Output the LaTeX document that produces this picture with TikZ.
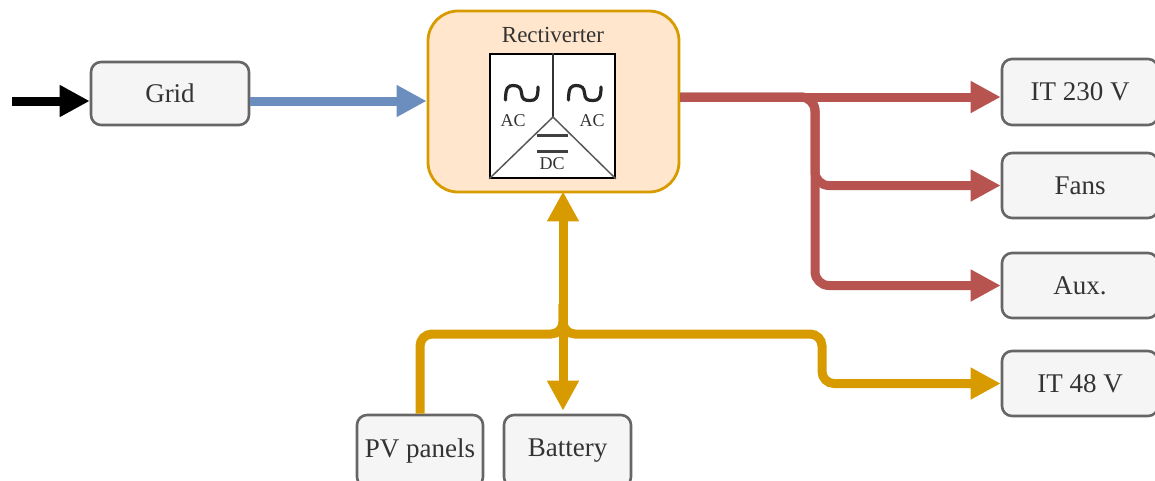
\documentclass[tikz,border=0pt]{standalone}
\usepackage{fontspec}
\setmainfont{Liberation Serif}
\usetikzlibrary{arrows.meta,calc}
\definecolor{boxfill}{HTML}{F5F5F5}
\definecolor{boxline}{HTML}{666666}
\definecolor{boxtext}{HTML}{333333}
\definecolor{bluewire}{HTML}{6C8EBF}
\definecolor{redwire}{HTML}{B85450}
\definecolor{yellowwire}{HTML}{D79B00}
\definecolor{recfill}{HTML}{FFE6CC}
\tikzset{
  unitbox/.style={draw=boxline,fill=boxfill,line width=2.6pt,rounded corners=10pt,inner sep=0pt,text=boxtext,font=\fontsize{27}{27}\selectfont,minimum width=#1},
  unitbox/.default=156pt,
  wire/.style={line width=9pt,-{Triangle[length=30pt,width=30pt]},rounded corners=14pt},
  plainwire/.style={line width=9pt,rounded corners=12pt},
  thinline/.style={line width=1.5pt,draw=black!80},
  smalltxt/.style={inner sep=0pt,text=boxtext,font=\fontsize{18}{18}\selectfont},
}
\begin{document}
\begin{tikzpicture}[x=1pt,y=-1pt]
\useasboundingbox (0,0) rectangle (1155,480);
% coordinates for free ends and levels
\coordinate (tail) at (12,101);
\coordinate (redy) at (0,97);
\coordinate (redsplit) at (815,97);
\coordinate (yellowbus) at (563,334);
\coordinate (yellowturn) at (822,334);
% nodes
\node[unitbox=158pt,minimum height=63pt] (grid) at (170,93.5) {Grid};
\node[draw=yellowwire,fill=recfill,line width=2.8pt,rounded corners=30pt,minimum width=251pt,minimum height=181pt,inner sep=0pt] (rec) at (553.5,101.5) {};
\node[inner sep=0pt,text=boxtext,font=\fontsize{23}{23}\selectfont] (rectitle) at (553,35) {Rectiverter};
\node[draw=black,fill=white,line width=1.6pt,minimum width=125pt,minimum height=124pt,inner sep=0pt] (conv) at (552.5,116) {};
\node[unitbox,minimum height=66pt] (it230) at (1080,92) {IT 230 V};
\node[unitbox,minimum height=65pt] (fans) at (1080,185.5) {Fans};
\node[unitbox,minimum height=65pt] (aux) at (1080,285.5) {Aux.};
\node[unitbox,minimum height=65pt] (it48) at (1080,383.5) {IT 48 V};
\node[unitbox=126pt,minimum height=72pt] (pv) at (420,451) {PV panels};
\node[unitbox=127pt,minimum height=72pt] (bat) at (567.5,451) {Battery};
% converter symbol
\coordinate (mid) at (553,117);
\draw[thinline] (conv.north -| mid) -- (mid);
\draw[thinline,draw=black!65] (conv.south west) -- (mid) -- (conv.south east);
\foreach \xo in {0,63}{
  \draw[line width=3.2pt,line cap=round,black!85,xshift=\xo pt]
    (505.5,100) .. controls (505.5,88) and (508,85.5) .. (513,85.5)
    .. controls (519,85.5) and (521,88) .. (521.5,93)
    .. controls (522,99) and (524,100.5) .. (530,100.5)
    .. controls (536,100.5) and (538,98) .. (538,87);
}
\node[smalltxt] (acl) at (513,121) {AC};
\node[smalltxt] (acr) at (592,121) {AC};
\node[smalltxt] (dc) at (552,164) {DC};
\draw[line width=3pt,black!75] (537,135.5) -- (568,135.5);
\draw[line width=3pt,black!75] (537,151) -- (568,151);
% connectors
\draw[wire,black] (tail) -- (grid.west |- tail);
\draw[wire,bluewire] (grid.east |- tail) -- (rec.west |- tail);
\draw[wire,redwire] (rec.east |- redy) -- (it230.west |- redy);
\draw[wire,redwire] (rec.east |- redy) -- (redsplit) -- (redsplit |- fans.west) -- (fans.west);
\draw[wire,redwire] (rec.east |- redy) -- (redsplit) -- (redsplit |- aux.west) -- (aux.west);
\draw[wire,yellowwire,{Triangle[length=30pt,width=30pt]}-{Triangle[length=30pt,width=30pt]}] ($(rec.south -| yellowbus)+(0,-2)$) -- ($(pv.north -| yellowbus)+(0,-3)$);
\draw[plainwire,yellowwire] (pv.north) -- (pv.north |- yellowbus) -- (yellowbus) -- ($(yellowbus)+(0,-30)$);
\draw[wire,yellowwire] ($(yellowbus)+(0,-30)$) [rounded corners=12pt] -- (yellowbus) -- (yellowturn) -- (yellowturn |- it48.west) -- (it48.west);
\end{tikzpicture}
\end{document}
